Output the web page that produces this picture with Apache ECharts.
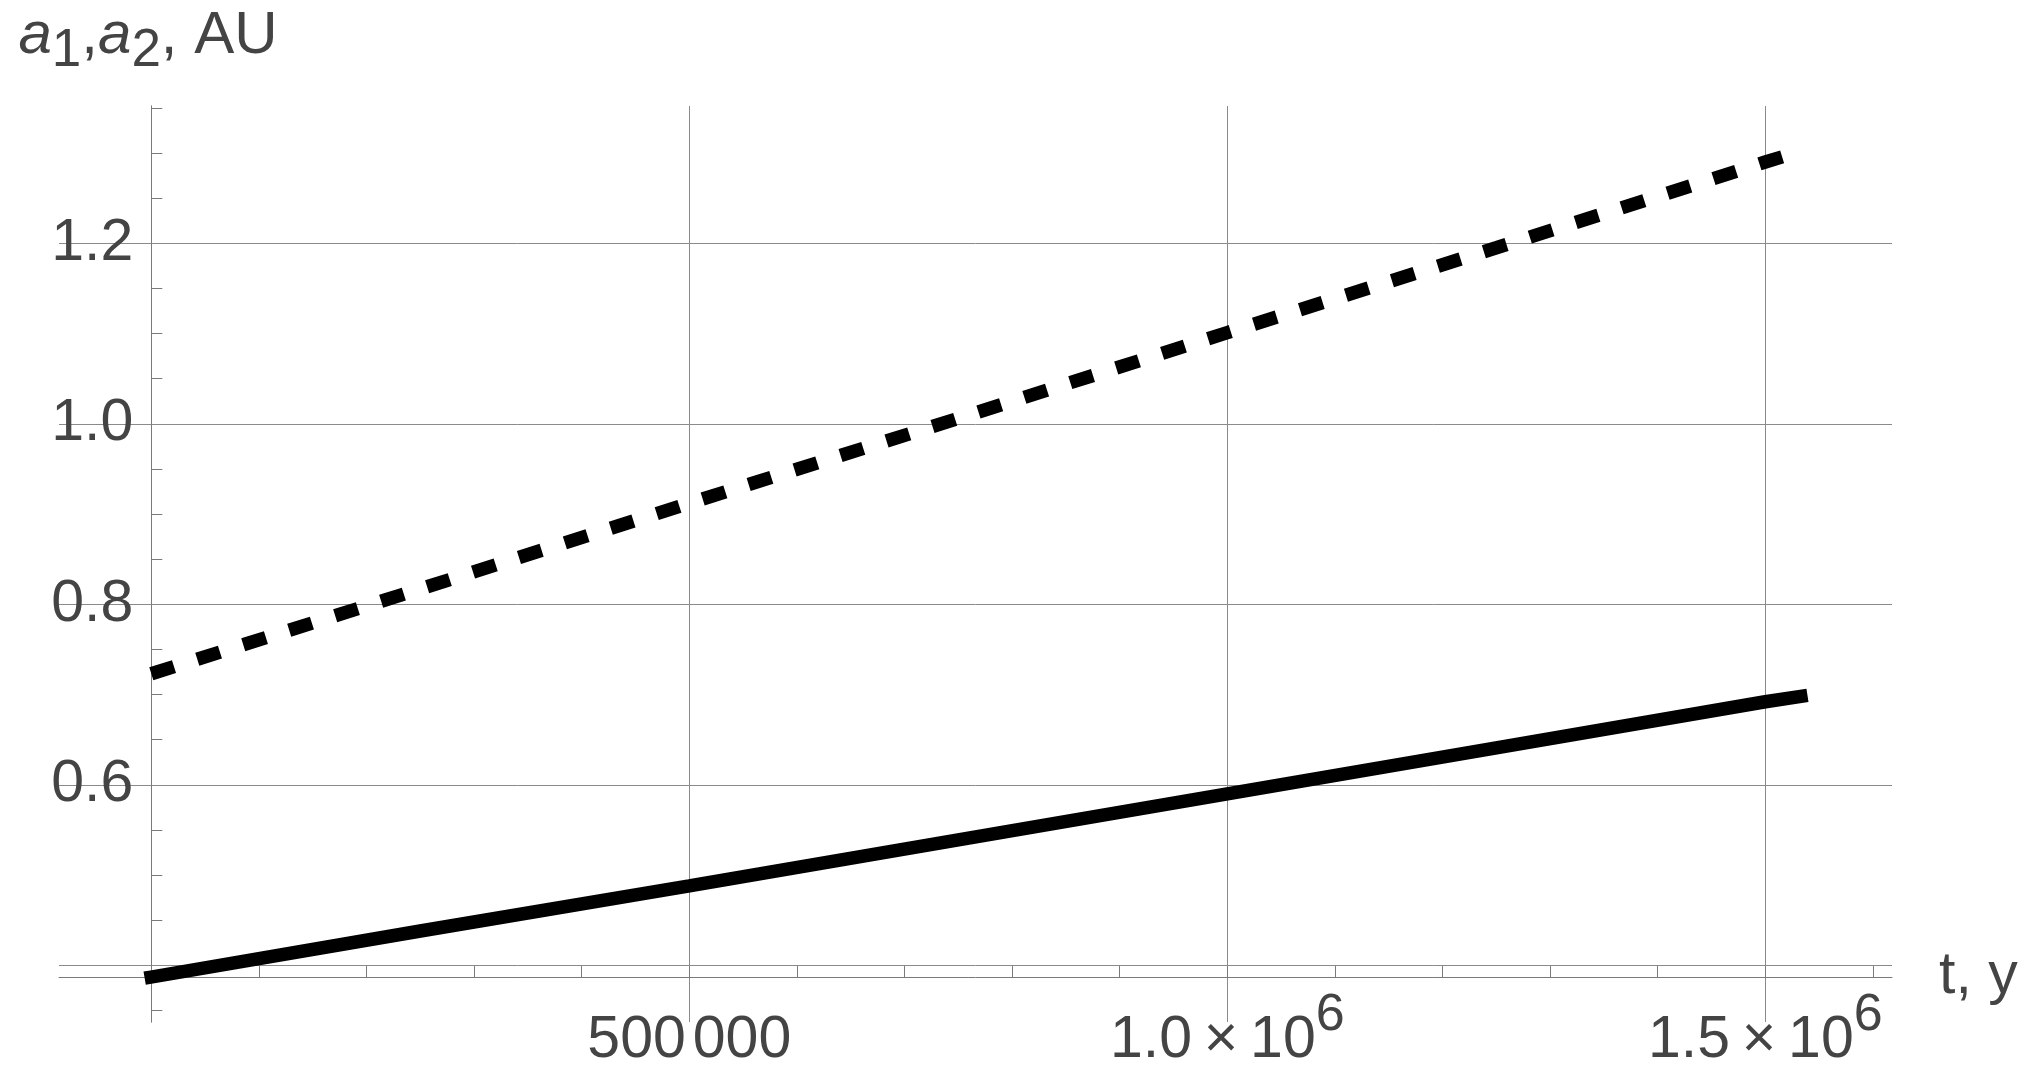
<!DOCTYPE html>
<html>
<head>
<meta charset="utf-8">
<script src="https://cdn.jsdelivr.net/npm/echarts@6/dist/echarts.min.js"></script>
<style>
html,body{margin:0;padding:0;background:#fff;}
#chart{width:2037px;height:1084px;}
</style>
</head>
<body>
<div id="chart"></div>
<script>
// ---- data ----
const tYears = [0, 250000, 500000, 750000, 1000000, 1250000, 1500000, 1533000];
const a1 = [0.387, 0.438, 0.488, 0.539, 0.590, 0.641, 0.692, 0.698];
const a2 = [0.723, 0.817, 0.912, 1.006, 1.101, 1.195, 1.290, 1.302];

const xRange = [-85780, 1617750];
const yRange = [0.3372, 1.3521];
const xAxisCrossY = 0.387;

const xMajorTicks = [500000, 1000000, 1500000];
const xMinorTicks = [100000, 200000, 300000, 400000, 500000, 600000, 700000, 800000, 900000,
  1000000, 1100000, 1200000, 1300000, 1400000, 1500000, 1600000];
const xTickLabels = ['500 000', '1.0\u2009×\u200910^6', '1.5\u2009×\u200910^6'];

const yMajorTicks = [0.4, 0.6, 0.8, 1.0, 1.2];
const yLabelTicks = [0.6, 0.8, 1.0, 1.2];
const yMinorTicks = [0.35, 0.45, 0.5, 0.55, 0.65, 0.7, 0.75, 0.85, 0.9, 0.95,
  1.05, 1.1, 1.15, 1.25, 1.3, 1.35];

const xName = 't, y';

// ---- helpers ----
function pairs(xs, ys) { return xs.map((x, i) => [x, ys[i]]); }
function xLabelRich(v) {
  const i = xMajorTicks.indexOf(v);
  if (i < 0) return '';
  const s = xTickLabels[i];
  const sup = s.split('^');
  if (sup.length === 2) return '{m|' + sup[0] + '}{s|' + sup[1] + '}';
  const grp = s.split(' ');
  return grp.map((g, k) => (k === 0 ? '{m|' : '{mp|') + g + '}').join('');
}

const TXT = '#444444';
const FONT = 'Liberation Sans, Arial, sans-serif';
const GRID_C = '#8a8a8a';
const AXIS_C = '#7a7a7a';
const LBL = 59;

const chart = echarts.init(document.getElementById('chart'), null, {renderer: 'canvas'});

const gridLeft = 59, gridTop = 106, gridW = 1833, gridH = 916;
// pixel offsets that put the axes where the reference crosses them
const xAxisOffset = -gridH * (xAxisCrossY - yRange[0]) / (yRange[1] - yRange[0]);
const yAxisOffset = -gridW * (0 - xRange[0]) / (xRange[1] - xRange[0]);

chart.setOption({
  animation: false,
  backgroundColor: '#ffffff',
  title: {
    text: '{i|a}{s|1}{m|,}{i|a}{s|2}{m|, AU}',
    left: 18.5, top: 6, padding: 0,
    textStyle: {
      fontWeight: 'normal',
      rich: {
        m: {fontFamily: FONT, fontSize: 60, lineHeight: 60, color: TXT, fontWeight: 'normal', verticalAlign: 'top'},
        i: {fontFamily: FONT, fontSize: 60, lineHeight: 60, color: TXT, fontWeight: 'normal', fontStyle: 'italic', verticalAlign: 'top'},
        s: {fontFamily: FONT, fontSize: 53, lineHeight: 53, color: TXT, fontWeight: 'normal', verticalAlign: 'top', padding: [19, 0, 0, 0]}
      }
    }
  },
  grid: {left: gridLeft, top: gridTop, width: gridW, height: gridH, outerBoundsMode: 'none', containLabel: false},
  xAxis: [
    {
      type: 'value', min: xRange[0], max: xRange[1], position: 'bottom',
      axisLine: {show: false, onZero: false},
      axisTick: {show: false, customValues: xMajorTicks},
      axisLabel: {show: false},
      splitLine: {show: true, lineStyle: {color: GRID_C, width: 1}}
    },
    {
      type: 'value', min: xRange[0], max: xRange[1], position: 'bottom', offset: xAxisOffset,
      name: xName, nameLocation: 'end', nameGap: 47,
      nameTextStyle: {fontFamily: FONT, fontSize: LBL, color: TXT, verticalAlign: 'middle', align: 'left'},
      axisLine: {show: true, onZero: false, lineStyle: {color: AXIS_C, width: 1}},
      axisTick: {show: true, inside: true, length: 11, customValues: xMinorTicks, lineStyle: {color: AXIS_C, width: 1}},
      axisLabel: {
        show: true, customValues: xMajorTicks, margin: 13,
        formatter: xLabelRich,
        rich: {
          m: {fontFamily: FONT, fontSize: LBL, lineHeight: LBL, color: TXT, verticalAlign: 'top', padding: [21, 0, 0, 0]},
          mp: {fontFamily: FONT, fontSize: LBL, lineHeight: LBL, color: TXT, verticalAlign: 'top', padding: [21, 0, 0, 7]},
          s: {fontFamily: FONT, fontSize: 52, lineHeight: 52, color: TXT, verticalAlign: 'top'}
        }
      },
      splitLine: {show: false}
    }
  ],
  yAxis: [
    {
      type: 'value', min: yRange[0], max: yRange[1], position: 'left', offset: yAxisOffset,
      axisLine: {show: true, onZero: false, lineStyle: {color: AXIS_C, width: 1}},
      axisTick: {show: false, customValues: yMajorTicks},
      axisLabel: {
        show: true, customValues: yLabelTicks, margin: 18,
        fontFamily: FONT, fontSize: LBL, color: TXT,
        formatter: v => v.toFixed(1)
      },
      splitLine: {show: true, lineStyle: {color: GRID_C, width: 1}}
    },
    {
      type: 'value', min: yRange[0], max: yRange[1], position: 'left', offset: yAxisOffset,
      axisLine: {show: true, onZero: false, lineStyle: {color: AXIS_C, width: 1}},
      axisTick: {show: true, inside: true, length: 11, customValues: yMinorTicks, lineStyle: {color: AXIS_C, width: 1}},
      axisLabel: {show: false},
      splitLine: {show: false}
    }
  ],
  series: [
    {
      name: 'a1', type: 'line', xAxisIndex: 0, yAxisIndex: 0,
      data: pairs(tYears, a1), showSymbol: false, symbol: 'none', smooth: false,
      lineStyle: {color: '#000000', width: 13.5, type: 'solid', cap: 'square'},
      z: 5
    },
    {
      name: 'a2', type: 'line', xAxisIndex: 0, yAxisIndex: 0,
      data: pairs(tYears, a2), showSymbol: false, symbol: 'none', smooth: false,
      lineStyle: {color: '#000000', width: 13.5, type: [23.8, 24.4], cap: 'butt'},
      z: 5
    }
  ]
});
</script>
</body>
</html>
